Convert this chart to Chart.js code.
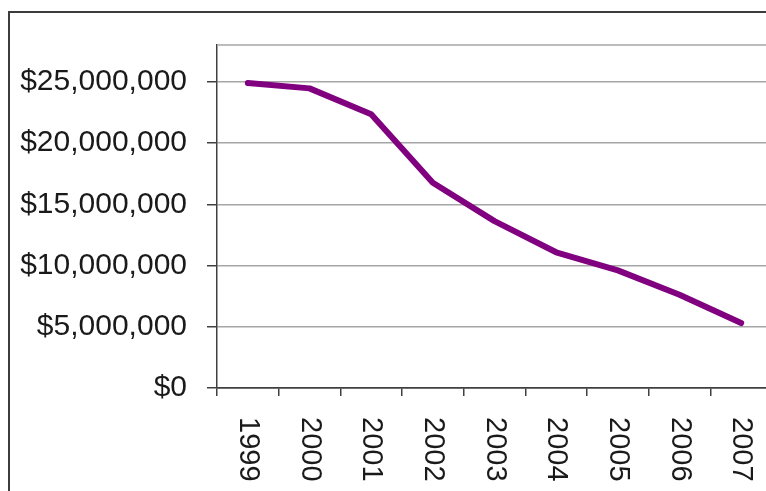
<!DOCTYPE html>
<html>
<head>
<meta charset="utf-8">
<script src="https://cdn.jsdelivr.net/npm/chart.js@4/dist/chart.umd.min.js"></script>
<style>
  html, body { margin: 0; padding: 0; background: #fff; overflow: hidden; }
  #wrap { position: absolute; left: 0; top: 0; width: 789px; height: 500px; }
</style>
</head>
<body>
<div id="wrap"><canvas id="c" width="789" height="500"></canvas></div>
<script>
const categories = ['1999', '2000', '2001', '2002', '2003', '2004', '2005', '2006', '2007'];
const values = [24890000, 24460000, 22350000, 16760000, 13620000, 11080000, 9600000, 7610000, 5300000];
const yTicks = [0, 5000000, 10000000, 15000000, 20000000, 25000000];
const yMax = 28000000;

const FONT = '"Liberation Sans", Arial, sans-serif';

const framePlugin = {
  id: 'frame',
  beforeDraw(chart) {
    const ctx = chart.ctx;
    ctx.save();
    ctx.fillStyle = '#fff';
    ctx.fillRect(0, 0, chart.width, chart.height);
    ctx.strokeStyle = '#3c3c3c';
    ctx.lineWidth = 2;
    ctx.strokeRect(9, 12, chart.width + 20, chart.height + 20);
    ctx.restore();
  },
  beforeDatasetsDraw(chart) {
    const {ctx, chartArea} = chart;
    ctx.save();
    ctx.strokeStyle = '#a6a6a6';
    ctx.lineWidth = 1.5;
    ctx.beginPath();
    ctx.moveTo(chartArea.left, chartArea.top);
    ctx.lineTo(chartArea.right + 20, chartArea.top);
    ctx.stroke();
    ctx.restore();
  },
  afterDraw(chart) {
    const ctx = chart.ctx;
    const xs = chart.scales.x;
    ctx.save();
    ctx.fillStyle = '#1a1a1a';
    ctx.font = '29px ' + FONT;
    ctx.textAlign = 'left';
    ctx.textBaseline = 'middle';
    chart.data.labels.forEach((lab, i) => {
      const x = xs.getPixelForValue(i);
      ctx.save();
      ctx.translate(x, xs.top + 29);
      ctx.rotate(Math.PI / 2);
      ctx.fillText(lab, 0, 0);
      ctx.restore();
    });
    ctx.restore();
  }
};

new Chart(document.getElementById('c'), {
  type: 'line',
  data: {
    labels: categories,
    datasets: [{
      data: values,
      borderColor: '#800080',
      borderWidth: 6,
      pointRadius: 0,
      tension: 0,
      borderCapStyle: 'round',
      borderJoinStyle: 'round',
      fill: false
    }]
  },
  options: {
    responsive: false,
    animation: false,
    layout: { padding: { top: 45, right: 17, bottom: 0, left: 0 } },
    plugins: { legend: { display: false }, tooltip: { enabled: false } },
    scales: {
      x: {
        type: 'category',
        offset: true,
        grid: { offset: true, drawOnChartArea: false, drawTicks: true, tickLength: 8, tickColor: '#404040', lineWidth: 1.5 },
        border: { color: '#404040', width: 1.5 },
        ticks: { display: false },
        afterFit(s) { s.height = 112; }
      },
      y: {
        min: 0,
        max: yMax,
        afterBuildTicks(s) { s.ticks = yTicks.map(v => ({ value: v })); },
        grid: {
          color: ctx => (ctx.tick && ctx.tick.value === 0) ? '#404040' : '#a6a6a6',
          lineWidth: 1.5,
          tickLength: 10,
          tickColor: '#404040'
        },
        border: { color: '#404040', width: 1.5 },
        ticks: {
          font: { family: FONT, size: 30 },
          color: '#1a1a1a',
          padding: 20,
          callback: v => '$' + Number(v).toLocaleString('en-US')
        },
        afterFit(s) { s.width = 217; }
      }
    }
  },
  plugins: [framePlugin]
});
</script>
</body>
</html>
